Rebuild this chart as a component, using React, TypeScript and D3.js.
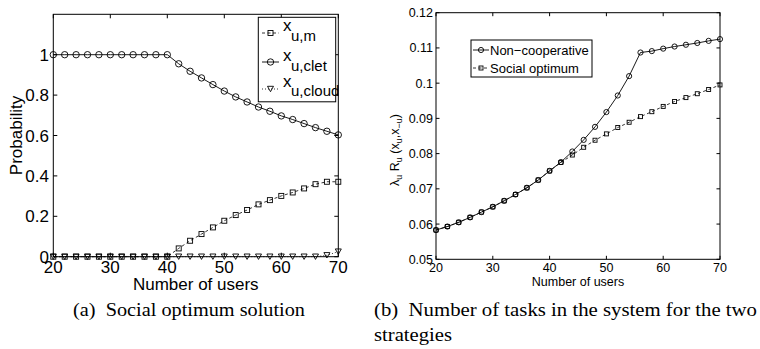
import React from "react";
import * as d3 from "d3";

const users = [20, 22, 24, 26, 28, 30, 32, 34, 36, 38, 40, 42, 44, 46, 48, 50, 52, 54, 56, 58, 60, 62, 64, 66, 68, 70];
const xM = [0, 0, 0, 0, 0, 0, 0, 0, 0, 0, 0, 0.041, 0.079, 0.112, 0.145, 0.178, 0.206, 0.231, 0.259, 0.28, 0.301, 0.318, 0.338, 0.359, 0.371, 0.371];
const xClet = [1, 1, 1, 1, 1, 1, 1, 1, 1, 1, 1, 0.955, 0.918, 0.885, 0.852, 0.82, 0.791, 0.766, 0.741, 0.72, 0.697, 0.679, 0.659, 0.639, 0.621, 0.603];
const xCloud = [0, 0, 0, 0, 0, 0, 0, 0, 0, 0, 0, 0, 0, 0, 0, 0, 0, 0, 0, 0, 0, 0, 0, 0, 0.007, 0.025];

const nonCoop = [0.0583, 0.0593, 0.0605, 0.0619, 0.0634, 0.0649, 0.0666, 0.0684, 0.0703, 0.0725, 0.0751, 0.0776, 0.0806, 0.0839, 0.0876, 0.0918, 0.0965, 0.102, 0.1087, 0.1091, 0.1098, 0.1104, 0.1109, 0.1114, 0.112, 0.1125];
const socialOpt = [0.0583, 0.0593, 0.0605, 0.0619, 0.0634, 0.0649, 0.0666, 0.0684, 0.0703, 0.0725, 0.0751, 0.0775, 0.0796, 0.0818, 0.0838, 0.0856, 0.0874, 0.0889, 0.0905, 0.0919, 0.0934, 0.0948, 0.0959, 0.097, 0.0982, 0.0995];

const xTicks = [20, 30, 40, 50, 60, 70];
const yTicksL = [0, 0.2, 0.4, 0.6, 0.8, 1];
const yTickLabelsL = ["0", "0.2", "0.4", "0.6", "0.8", "1"];
const yTicksR = [0.05, 0.06, 0.07, 0.08, 0.09, 0.1, 0.11, 0.12];
const yTickLabelsR = ["0.05", "0.06", "0.07", "0.08", "0.09", "0.1", "0.11", "0.12"];

const SANS = "'Liberation Sans', Arial, Helvetica, sans-serif";
const SERIF = "'Liberation Serif', 'Times New Roman', serif";

function Circle({ x, y, r }: { x: number; y: number; r: number }) {
  return <circle cx={x} cy={y} r={r} fill="none" stroke="#000" strokeWidth={0.9} />;
}
function Square({ x, y, s }: { x: number; y: number; s: number }) {
  return <rect x={x - s / 2} y={y - s / 2} width={s} height={s} fill="none" stroke="#000" strokeWidth={0.9} />;
}
function Tri({ x, y, s }: { x: number; y: number; s: number }) {
  const h = s * 0.9;
  return (
    <path
      d={`M${x - s / 2},${y - h / 2}L${x + s / 2},${y - h / 2}L${x},${y + h / 2}Z`}
      fill="none"
      stroke="#000"
      strokeWidth={0.9}
    />
  );
}

function Frame({
  x,
  y,
  xt,
  yt,
  tickLen,
}: {
  x: d3.ScaleLinear<number, number>;
  y: d3.ScaleLinear<number, number>;
  xt: number[];
  yt: number[];
  tickLen: number;
}) {
  const [x0, x1] = x.range();
  const [y0, y1] = y.range();
  return (
    <g stroke="#000" strokeWidth={1} fill="none">
      <rect x={x0} y={y1} width={x1 - x0} height={y0 - y1} />
      {xt.map((t) => (
        <g key={"x" + t}>
          <line x1={x(t)} x2={x(t)} y1={y0} y2={y0 - tickLen} />
          <line x1={x(t)} x2={x(t)} y1={y1} y2={y1 + tickLen} />
        </g>
      ))}
      {yt.map((t) => (
        <g key={"y" + t}>
          <line x1={x0} x2={x0 + tickLen} y1={y(t)} y2={y(t)} />
          <line x1={x1} x2={x1 - tickLen} y1={y(t)} y2={y(t)} />
        </g>
      ))}
    </g>
  );
}

export default function App() {
  const xL = d3.scaleLinear().domain([20, 70]).range([53.3, 338.3]);
  const yL = d3.scaleLinear().domain([0, 1.2]).range([256.7, 14.3]);
  const xR = d3.scaleLinear().domain([20, 70]).range([436, 720]);
  const yR = d3.scaleLinear().domain([0.05, 0.12]).range([259.3, 12.7]);

  const lineL = (vals: number[]) =>
    d3.line<number>().x((_, i) => xL(users[i])).y((v) => yL(v))(vals) || "";
  const lineR = (vals: number[]) =>
    d3.line<number>().x((_, i) => xR(users[i])).y((v) => yR(v))(vals) || "";

  return (
    <svg
      width={760}
      height={349}
      style={{ position: "absolute", left: 0, top: 0, background: "#fff" }}
      xmlns="http://www.w3.org/2000/svg"
    >
      <rect x={0} y={0} width={760} height={349} fill="#fff" />

      {/* ---------- Left panel ---------- */}
      <Frame x={xL} y={yL} xt={xTicks} yt={yTicksL} tickLen={4} />
      <path d={lineL(xM)} fill="none" stroke="#000" strokeWidth={0.8} strokeDasharray="3,2.5" />
      <path d={lineL(xClet)} fill="none" stroke="#000" strokeWidth={0.9} />
      <path d={lineL(xCloud)} fill="none" stroke="#000" strokeWidth={0.8} strokeDasharray="1,2" />
      {xM.map((v, i) => (
        <Square key={"m" + i} x={xL(users[i])} y={yL(v)} s={5} />
      ))}
      {xClet.map((v, i) => (
        <Circle key={"c" + i} x={xL(users[i])} y={yL(v)} r={3.2} />
      ))}
      {xCloud.map((v, i) => (
        <Tri key={"t" + i} x={xL(users[i])} y={yL(v)} s={6} />
      ))}
      <g fontFamily={SANS} fontSize={17} fill="#000">
        {yTicksL.map((t, i) => (
          <text key={t} x={49} y={yL(t) + 6} textAnchor="end">
            {yTickLabelsL[i]}
          </text>
        ))}
        {xTicks.map((t) => (
          <text key={t} x={xL(t)} y={273} textAnchor="middle">
            {t}
          </text>
        ))}
        <text x={(xL(20) + xL(70)) / 2} y={290} textAnchor="middle">
          Number of users
        </text>
        <text transform={`translate(22,${(yL(0) + yL(1.2)) / 2}) rotate(-90)`} textAnchor="middle">
          Probability
        </text>
      </g>
      {/* left legend */}
      <rect x={258.3} y={17.3} width={77.4} height={84.5} fill="#fff" stroke="#000" strokeWidth={1} />
      <line x1={262} x2={279} y1={33} y2={33} stroke="#000" strokeWidth={0.8} strokeDasharray="3,2.5" />
      <Square x={270.5} y={33} s={5} />
      <line x1={262} x2={279} y1={62} y2={62} stroke="#000" strokeWidth={0.9} />
      <Circle x={270.5} y={62} r={3.2} />
      <line x1={262} x2={279} y1={89} y2={89} stroke="#000" strokeWidth={0.8} strokeDasharray="1,2" />
      <Tri x={270.5} y={89} s={6} />
      <g fontFamily={SANS} fill="#000">
        <text x={283} y={31} fontSize={17}>x</text>
        <text x={291} y={40.5} fontSize={15}>u,m</text>
        <text x={283} y={61} fontSize={17}>x</text>
        <text x={291} y={70.5} fontSize={15}>u,clet</text>
        <text x={283} y={87} fontSize={17}>x</text>
        <text x={291} y={96} fontSize={15}>u,cloud</text>
      </g>

      {/* ---------- Right panel ---------- */}
      <Frame x={xR} y={yR} xt={xTicks} yt={yTicksR} tickLen={3.5} />
      <path d={lineR(nonCoop)} fill="none" stroke="#000" strokeWidth={0.9} />
      <path d={lineR(socialOpt)} fill="none" stroke="#000" strokeWidth={0.8} strokeDasharray="3,2.5" />
      {nonCoop.map((v, i) => (
        <Circle key={"n" + i} x={xR(users[i])} y={yR(v)} r={2.6} />
      ))}
      {socialOpt.map((v, i) => (
        <Square key={"s" + i} x={xR(users[i])} y={yR(v)} s={4} />
      ))}
      <g fontFamily={SANS} fontSize={12.5} fill="#000">
        {yTicksR.map((t, i) => (
          <text key={t} x={433} y={yR(t) + 4.5} textAnchor="end">
            {yTickLabelsR[i]}
          </text>
        ))}
        {xTicks.map((t) => (
          <text key={t} x={xR(t)} y={272} textAnchor="middle">
            {t}
          </text>
        ))}
        <text x={(xR(20) + xR(70)) / 2} y={285.5} textAnchor="middle">
          Number of users
        </text>
        <text transform={`translate(399,150) rotate(-90)`} textAnchor="middle">
          λ<tspan dy={3} fontSize={9}>u</tspan>
          <tspan dy={-3}> R</tspan>
          <tspan dy={3} fontSize={9}>u</tspan>
          <tspan dy={-3}> (x</tspan>
          <tspan dy={3} fontSize={9}>u</tspan>
          <tspan dy={-3}>,x</tspan>
          <tspan dy={3} fontSize={9}>−u</tspan>
          <tspan dy={-3}>)</tspan>
        </text>
      </g>
      {/* right legend */}
      <rect x={471} y={40} width={121} height={37} fill="#fff" stroke="#000" strokeWidth={1} />
      <line x1={473} x2={489} y1={50} y2={50} stroke="#000" strokeWidth={0.9} />
      <Circle x={481} y={50} r={2.6} />
      <line x1={473} x2={489} y1={68} y2={68} stroke="#000" strokeWidth={0.8} strokeDasharray="3,2.5" />
      <Square x={481} y={68} s={4} />
      <g fontFamily={SANS} fontSize={13} fill="#000">
        <text x={490} y={54.5}>Non−cooperative</text>
        <text x={490} y={72.5}>Social optimum</text>
      </g>

      {/* ---------- Captions ---------- */}
      <g fontFamily={SERIF} fontSize={18} fill="#000">
        <text x={73} y={316} xmlSpace="preserve" textLength={232} lengthAdjust="spacingAndGlyphs">
          (a)  Social optimum solution
        </text>
        <text x={374} y={316} xmlSpace="preserve" textLength={383} lengthAdjust="spacingAndGlyphs">
          (b)  Number of tasks in the system for the two
        </text>
        <text x={374} y={340.5} textLength={78} lengthAdjust="spacingAndGlyphs">
          strategies
        </text>
      </g>
    </svg>
  );
}
